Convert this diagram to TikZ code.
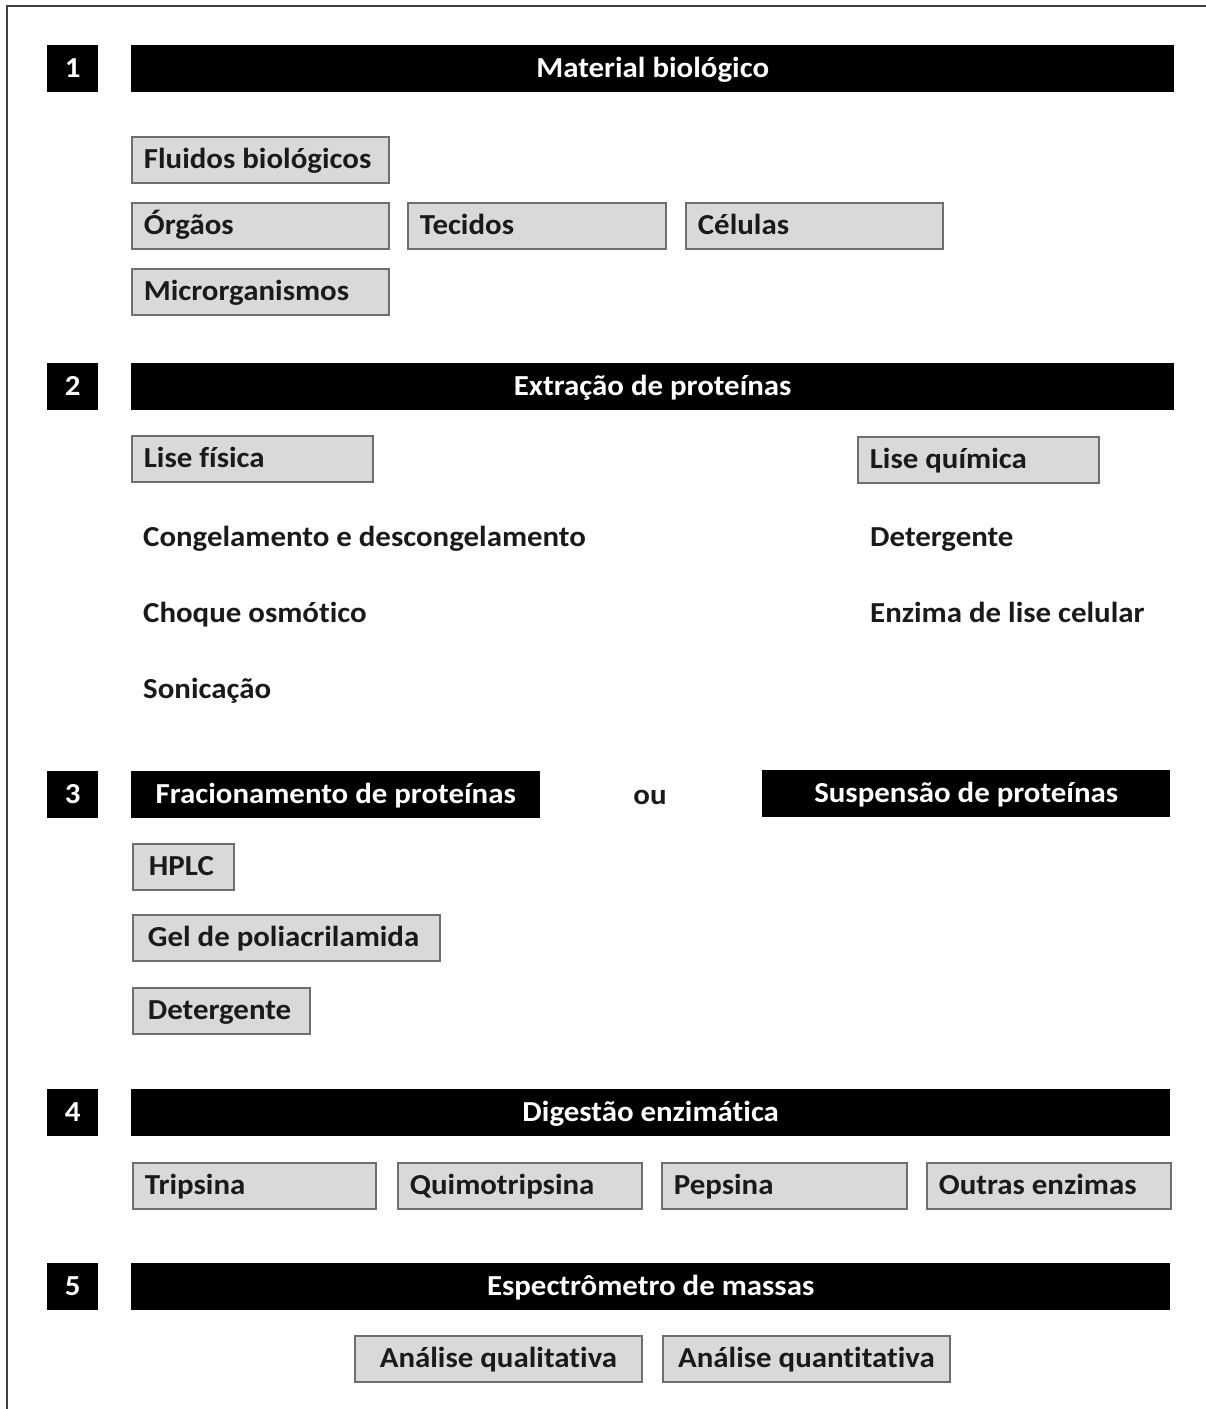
\documentclass[tikz,border=0pt]{standalone}
\usepackage{fontspec}
\setmainfont{Carlito}[Ligatures=NoCommon, FakeStretch=1.065]
\definecolor{boxfill}{HTML}{D9D9D9}
\definecolor{boxline}{HTML}{6E6E6E}
\definecolor{txt}{HTML}{1A1A1A}
\begin{document}
\begin{tikzpicture}[x=1pt,y=-1pt,
  every node/.style={font=\fontsize{29}{34}\selectfont\bfseries, text height=22pt, text depth=5pt},
  gbox/.style={draw=boxline, line width=1.8pt, fill=boxfill, text=txt, anchor=north west,
    minimum width=#1, minimum height=46pt, inner xsep=0pt, inner ysep=0pt},
  bar/.style={fill=black, text=white, anchor=north west, minimum height=47pt, inner sep=0pt},
  plain/.style={anchor=west, inner sep=0pt, text=txt}]
\useasboundingbox (0,0) rectangle (1206,1409);
\draw[line width=2pt, draw=black!75] (7,1409) -- (7,6) -- (1206,6);

% Section 1
\node[bar, minimum width=51pt] (n1) at (47,45) {1};
\node[bar, minimum width=1043pt] (h1) at (131,45) {Material biológico};
\node[gbox=257pt] (flu) at (131,136) {\makebox[257pt][l]{\hspace*{12pt}Fluidos biológicos}};
\node[gbox=257pt] (org) at (131,202) {\makebox[257pt][l]{\hspace*{12pt}Órgãos}};
\node[gbox=258pt] (tec) at (407,202) {\makebox[258pt][l]{\hspace*{12pt}Tecidos}};
\node[gbox=257pt] (cel) at (685,202) {\makebox[257pt][l]{\hspace*{12pt}Células}};
\node[gbox=257pt] (mic) at (131,268) {\makebox[257pt][l]{\hspace*{12pt}Microrganismos}};

% Section 2
\node[bar, minimum width=51pt] (n2) at (47,363) {2};
\node[bar, minimum width=1043pt] (h2) at (131,363) {Extração de proteínas};
\node[gbox=241pt] (lf) at (131,435) {\makebox[241pt][l]{\hspace*{12pt}Lise física}};
\node[gbox=241pt] (lq) at (857,436) {\makebox[241pt][l]{\hspace*{12pt}Lise química}};
\node[plain] (t1) at (143,538) {Congelamento e descongelamento};
\node[plain] (t2) at (143,614) {Choque osmótico};
\node[plain] (t3) at (143,690) {Sonicação};
\node[plain] (t4) at (870,538) {Detergente};
\node[plain] (t5) at (870,614) {Enzima de lise celular};

% Section 3
\node[bar, minimum width=51pt] (n3) at (47,771) {3};
\node[bar, minimum width=409pt] (h3a) at (131,771) {Fracionamento de proteínas};
\node[inner sep=0pt, text=txt] (ou) at (650,796) {ou};
\node[bar, minimum width=408pt] (h3b) at (762,770) {Suspensão de proteínas};
\node[gbox=101pt] (hplc) at (132,843) {\makebox[101pt][l]{\hspace*{16pt}HPLC}};
\node[gbox=307pt] (gel) at (132,914) {\makebox[307pt][l]{\hspace*{15pt}Gel de poliacrilamida}};
\node[gbox=177pt] (det) at (132,987) {\makebox[177pt][l]{\hspace*{15pt}Detergente}};

% Section 4
\node[bar, minimum width=51pt] (n4) at (47,1089) {4};
\node[bar, minimum width=1039pt] (h4) at (131,1089) {Digestão enzimática};
\node[gbox=243pt] (tri) at (132,1162) {\makebox[243pt][l]{\hspace*{12pt}Tripsina}};
\node[gbox=244pt] (qui) at (397,1162) {\makebox[244pt][l]{\hspace*{12pt}Quimotripsina}};
\node[gbox=245pt] (pep) at (661,1162) {\makebox[245pt][l]{\hspace*{12pt}Pepsina}};
\node[gbox=244pt] (out) at (926,1162) {\makebox[244pt][l]{\hspace*{12pt}Outras enzimas}};

% Section 5
\node[bar, minimum width=51pt] (n5) at (47,1263) {5};
\node[bar, minimum width=1039pt] (h5) at (131,1263) {Espectrômetro de massas};
\node[gbox=287pt] (qual) at (354,1335) {\makebox[287pt][c]{Análise qualitativa}};
\node[gbox=287pt] (quan) at (662,1335) {\makebox[287pt][c]{Análise quantitativa}};
\end{tikzpicture}
\end{document}
